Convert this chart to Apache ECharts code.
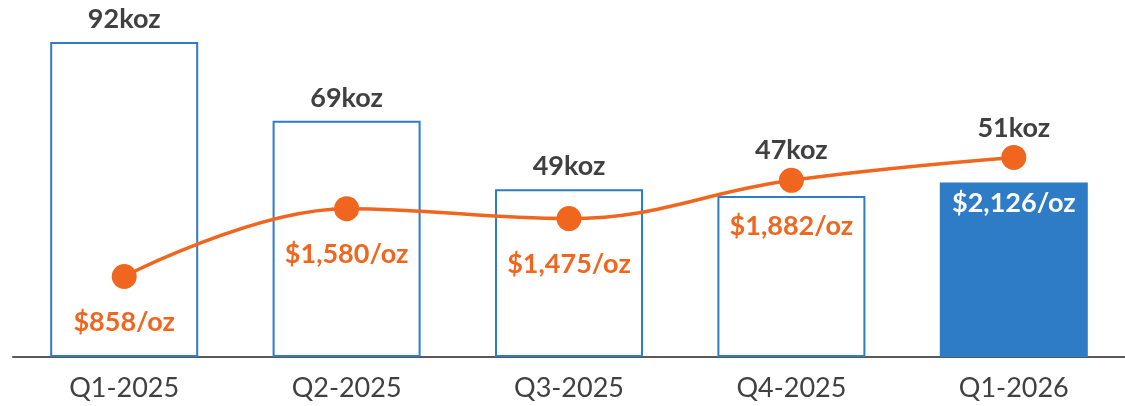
<!DOCTYPE html>
<html>
<head>
<meta charset="utf-8">
<script src="https://cdn.jsdelivr.net/npm/echarts@6/dist/echarts.min.js"></script>
<style>
  html, body { margin: 0; padding: 0; background: #fff; }
  #chart { width: 1125px; height: 406px; }
</style>
</head>
<body>
<div id="chart"></div>
<script>
// Quarterly production (koz) and cost per ounce
const quarters = ['Q1-2025', 'Q2-2025', 'Q3-2025', 'Q4-2025', 'Q1-2026'];
const productionKoz = [92, 69, 49, 47, 51];
const costPerOz = [858, 1580, 1475, 1882, 2126];

const BLUE = '#2E7BC6';
const ORANGE = '#F0661E';
const DARK = '#404040';
const FONT = 'Lato, "Open Sans", sans-serif';
const FS = 27;

const chart = echarts.init(document.getElementById('chart'));

// koz labels sit higher on the last two bars so they clear the cost line
const labelLift = [0, 0, 0, -23, -32];

const barData = productionKoz.map((v, i) => {
  const last = i === productionKoz.length - 1;
  return {
    value: v,
    itemStyle: last
      ? { color: BLUE, borderColor: BLUE, borderWidth: 2 }
      : { color: '#ffffff', borderColor: BLUE, borderWidth: 2 },
    label: { offset: [0, labelLift[i]] }
  };
});

const lineData = costPerOz.map((v, i) => {
  const last = i === costPerOz.length - 1;
  return {
    value: v,
    label: { color: last ? '#ffffff' : ORANGE }
  };
});

chart.setOption({
  animation: false,
  grid: { left: 13, width: 1115, top: 42, bottom: 49, containLabel: false },
  xAxis: {
    type: 'category',
    data: quarters,
    axisLine: { lineStyle: { color: '#595959', width: 2 } },
    axisTick: { show: false },
    axisLabel: { color: DARK, fontSize: FS, fontFamily: FONT, margin: 18 }
  },
  yAxis: [
    { type: 'value', min: 0, max: 92, show: false, splitLine: { show: false } },
    { type: 'value', min: 0, max: 3356, show: false, splitLine: { show: false } }
  ],
  series: [
    {
      type: 'bar',
      data: barData,
      barWidth: 148,
      yAxisIndex: 0,
      label: {
        show: true,
        position: 'top',
        distance: 9,
        color: DARK,
        fontSize: FS,
        fontWeight: 'bold',
        fontFamily: FONT,
        formatter: p => p.value + 'koz'
      }
    },
    {
      type: 'line',
      data: lineData,
      yAxisIndex: 1,
      smooth: 0.4,
      symbol: 'circle',
      symbolSize: 25,
      itemStyle: { color: ORANGE },
      lineStyle: { color: ORANGE, width: 3.5 },
      z: 5,
      label: {
        show: true,
        position: 'bottom',
        distance: 20,
        fontSize: FS,
        fontWeight: 'bold',
        fontFamily: FONT,
        formatter: p => '$' + p.value.toLocaleString('en-US') + '/oz'
      }
    }
  ]
});
</script>
</body>
</html>
